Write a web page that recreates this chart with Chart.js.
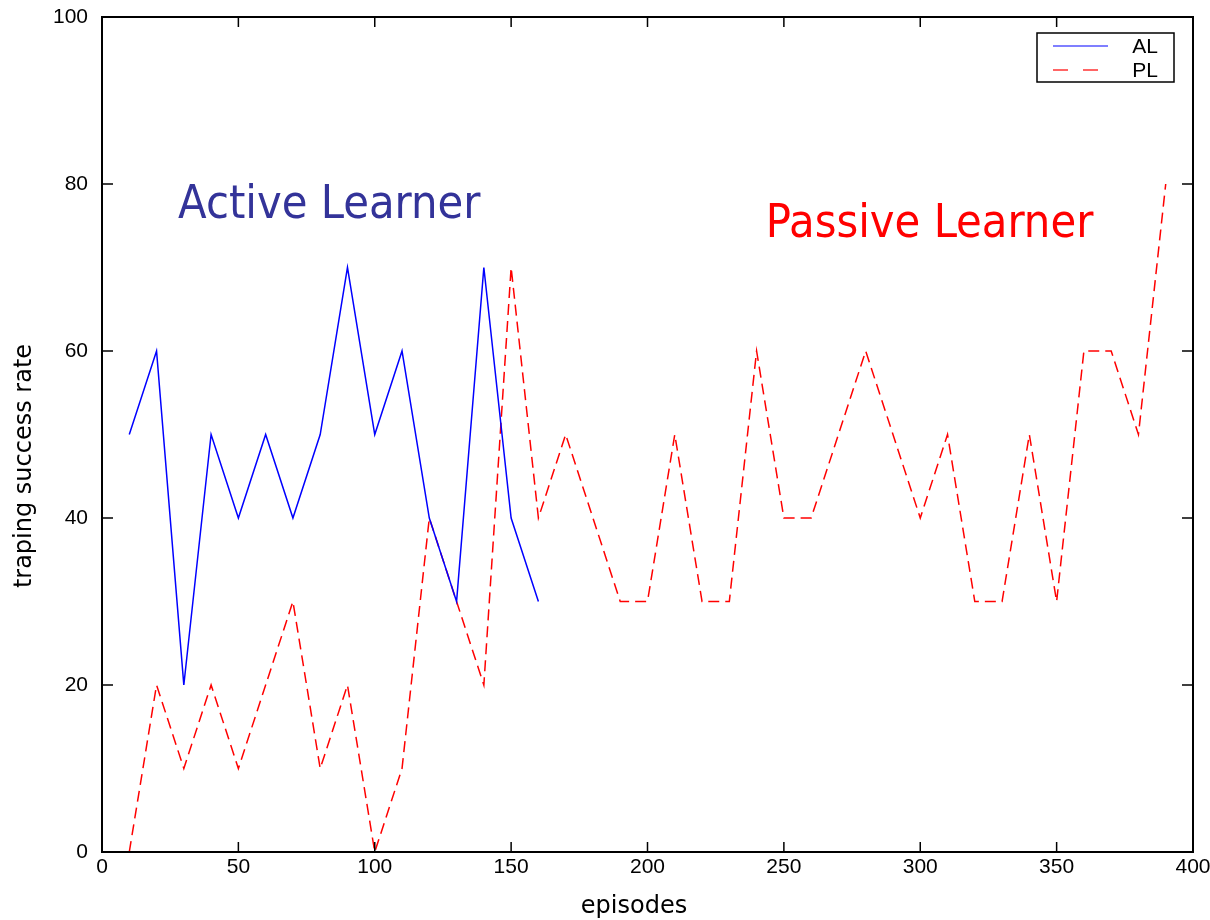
<!DOCTYPE html>
<html>
<head>
<meta charset="utf-8">
<title>Active vs passive learner</title>
<script src="https://cdn.jsdelivr.net/npm/chart.js@4.4.1/dist/chart.umd.min.js"></script>
<style>
  html, body { margin: 0; padding: 0; background: #fff; }
  #wrap { width: 1210px; height: 920px; position: relative; }
</style>
</head>
<body>
<div id="wrap"><canvas id="chart"></canvas></div>
<script>
// data
const alEpisodes = [10, 20, 30, 40, 50, 60, 70, 80, 90, 100, 110, 120, 130, 140, 150, 160];
const alRate = [50, 60, 20, 50, 40, 50, 40, 50, 70, 50, 60, 40, 30, 70, 40, 30];

const plEpisodes = [10, 20, 30, 40, 50, 60, 70, 80, 90, 100, 110, 120, 130, 140, 150, 160, 170, 180, 190, 200,
  210, 220, 230, 240, 250, 260, 270, 280, 290, 300, 310, 320, 330, 340, 350, 360, 370, 380, 390];
const plRate = [0, 20, 10, 20, 10, 20, 30, 10, 20, 0, 10, 40, 30, 20, 70, 40, 50, 40, 30, 30,
  50, 30, 30, 60, 40, 40, 50, 60, 50, 40, 50, 30, 30, 50, 30, 60, 60, 50, 80];

const xTicks = [0, 50, 100, 150, 200, 250, 300, 350, 400];
const yTicks = [0, 20, 40, 60, 80, 100];

const seriesNames = ['AL', 'PL'];
const xTitle = 'episodes';
const yTitle = 'traping success rate';

function toPoints(xs, ys) {
  return xs.map((x, i) => ({ x: x, y: ys[i] }));
}

// frame, inward ticks on all four sides, axis titles
const framePlugin = {
  id: 'frame',
  afterDatasetsDraw(chart) {
    const { ctx, chartArea: a, scales: { x, y } } = chart;
    ctx.save();
    ctx.strokeStyle = '#000';
    ctx.lineWidth = 1.5;
    ctx.beginPath();
    xTicks.forEach(v => {
      const px = x.getPixelForValue(v);
      ctx.moveTo(px, a.bottom); ctx.lineTo(px, a.bottom - 10);
      ctx.moveTo(px, a.top); ctx.lineTo(px, a.top + 10);
    });
    yTicks.forEach(v => {
      const py = y.getPixelForValue(v);
      ctx.moveTo(a.left, py); ctx.lineTo(a.left + 11, py);
      ctx.moveTo(a.right, py); ctx.lineTo(a.right - 11, py);
    });
    ctx.stroke();
    ctx.lineWidth = 2;
    ctx.strokeRect(a.left, a.top, a.right - a.left, a.bottom - a.top);

    ctx.fillStyle = '#000';
    ctx.font = '24px "DejaVu Sans"';
    ctx.textAlign = 'center';
    ctx.textBaseline = 'alphabetic';
    ctx.fillText(xTitle, 634, 913);
    ctx.translate(31, 466);
    ctx.rotate(-Math.PI / 2);
    ctx.fillText(yTitle, 0, 0);
    ctx.restore();
  }
};

// boxed legend in the top right corner
const legendPlugin = {
  id: 'boxLegend',
  afterDraw(chart) {
    const { ctx } = chart;
    ctx.save();
    ctx.strokeStyle = '#000';
    ctx.lineWidth = 1.5;
    ctx.strokeRect(1037, 33, 137, 49);
    chart.data.datasets.forEach((ds, i) => {
      const ly = 46 + i * 24;
      ctx.strokeStyle = ds.borderColor;
      ctx.lineWidth = 1.2;
      ctx.setLineDash(ds.borderDash.length ? [15, 15] : []);
      ctx.beginPath();
      ctx.moveTo(1053, ly);
      ctx.lineTo(1108, ly);
      ctx.stroke();
      ctx.setLineDash([]);
      ctx.fillStyle = '#000';
      ctx.font = '21px "Liberation Sans"';
      ctx.textAlign = 'right';
      ctx.textBaseline = 'middle';
      ctx.fillText(ds.label, 1158, ly + 1);
    });
    ctx.restore();
  }
};

// big coloured notes placed in data space
const notesPlugin = {
  id: 'notes',
  afterDraw(chart, args, opts) {
    const { ctx, scales: { x, y } } = chart;
    ctx.save();
    ctx.textAlign = 'left';
    ctx.textBaseline = 'alphabetic';
    opts.items.forEach(n => {
      ctx.font = '46.5px "DejaVu Sans Condensed", "DejaVu Sans"';
      ctx.fillStyle = n.color;
      ctx.fillText(n.text, x.getPixelForValue(n.x), y.getPixelForValue(n.y));
    });
    ctx.restore();
  }
};

const tickFont = { family: '"Liberation Sans", Arial, sans-serif', size: 21 };

// drop label overhang so the layout padding alone places the plot area
function noOverhang(s) {
  s.paddingTop = 0; s.paddingBottom = 0; s.paddingLeft = 0; s.paddingRight = 0;
}

new Chart(document.getElementById('chart'), {
  type: 'line',
  data: {
    datasets: [{
      label: seriesNames[0],
      data: toPoints(alEpisodes, alRate),
      borderColor: '#0000ff',
      borderWidth: 1.5,
      borderDash: [],
      pointRadius: 0,
      tension: 0,
      fill: false
    }, {
      label: seriesNames[1],
      data: toPoints(plEpisodes, plRate),
      borderColor: '#ff0000',
      borderWidth: 1.5,
      borderDash: [11, 6],
      pointRadius: 0,
      tension: 0,
      fill: false
    }]
  },
  options: {
    responsive: true,
    maintainAspectRatio: false,
    animation: false,
    layout: { padding: { top: 17, right: 17, left: 0, bottom: 0 } },
    plugins: {
      legend: { display: false },
      tooltip: { enabled: false },
      notes: {
        items: [
          { text: 'Active Learner', x: 27.9, y: 75.9, color: '#333399' },
          { text: 'Passive Learner', x: 243.4, y: 73.6, color: '#ff0000' }
        ]
      }
    },
    scales: {
      x: {
        type: 'linear',
        min: 0,
        max: 400,
        afterFit: s => { s.height = 68; noOverhang(s); },
        afterBuildTicks: s => { s.ticks = xTicks.map(v => ({ value: v })); },
        grid: { display: false, drawTicks: false },
        border: { display: false },
        ticks: { font: tickFont, color: '#000', padding: 3, maxRotation: 0 }
      },
      y: {
        type: 'linear',
        min: 0,
        max: 100,
        afterFit: s => { s.width = 102; noOverhang(s); },
        afterBuildTicks: s => { s.ticks = yTicks.map(v => ({ value: v })); },
        grid: { display: false, drawTicks: false },
        border: { display: false },
        ticks: { font: tickFont, color: '#000', padding: 14 }
      }
    }
  },
  plugins: [framePlugin, legendPlugin, notesPlugin]
});
</script>
</body>
</html>
